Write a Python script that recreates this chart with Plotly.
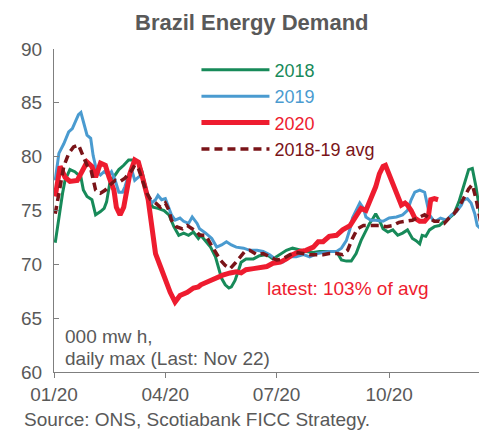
import datetime as dt
import plotly.graph_objects as go

BASE = dt.date(2020, 1, 1)

# ---- data (day offset from 1 Jan 2020, value in 000 MWh daily max) ----
days_2018 = [1, 4, 7, 9, 13, 17, 22, 24, 27, 31, 34, 38, 41, 43, 46, 50, 53, 57, 61, 65, 69, 72, 75, 77, 81, 85, 90, 94, 98, 102, 106, 110, 114, 118,
             120, 124, 128, 132, 134, 137, 140, 143, 145, 148, 151, 153, 157, 163, 168, 174, 179, 185, 190, 195, 201, 206, 212, 217, 223, 231,
             235, 239, 243, 247, 251, 255, 258, 261, 263, 266, 269, 273, 277, 281, 285, 289, 293, 296, 299, 301, 304, 307, 311, 315, 319, 323,
             327, 331, 334, 337, 339, 342, 345, 348, 350, 353]
vals_2018 = [72.0, 74.4, 76.6, 77.8, 78.8, 78.6, 78.1, 76.9, 76.3, 76.0, 74.6, 74.9, 75.2, 75.8, 77.8, 78.3, 78.8, 79.2, 79.7, 79.7, 79.5, 78.6, 77.2, 76.0, 75.3, 75.2, 75.0, 74.6, 73.5, 72.7, 72.9, 72.7, 73.0, 72.4,
             72.7, 72.2, 71.6, 70.7, 69.8, 68.7, 68.1, 67.8, 67.9, 68.5, 69.5, 70.2, 70.5, 70.5, 70.8, 70.9, 70.5, 70.9, 71.3, 71.5, 71.3, 71.2, 71.1, 71.2, 71.2, 71.2,
             70.4, 70.3, 70.3, 71.0, 72.2, 73.2, 73.8, 74.3, 74.7, 74.1, 73.3, 73.0, 73.2, 72.7, 72.9, 73.2, 72.4, 72.2, 71.9, 72.7, 72.6, 73.2, 73.5, 73.6, 74.0, 74.3,
             74.7, 75.8, 76.9, 78.1, 78.8, 78.9, 77.2, 75.0, 73.5, 72.9]

days_2019 = [1, 4, 8, 12, 15, 17, 20, 22, 24, 27, 30, 32, 35, 38, 41, 45, 47, 50, 53, 56, 58, 61, 64, 66, 69, 72, 75, 77, 80, 83, 85, 88, 91, 94, 96, 99, 103, 106, 110, 113, 117, 119,
             124, 129, 133, 137, 141, 145, 149, 155, 160, 166, 171, 176, 182, 187, 193, 198, 204, 209, 215, 220, 225, 231,
             235, 239, 242, 244, 247, 250, 253, 255, 259, 263, 269, 274, 280, 285, 289, 292, 295, 299, 303, 306, 307, 310, 312, 316, 321, 325,
             329, 333, 335, 338, 341, 344, 346, 349, 352]
vals_2019 = [77.8, 80.3, 81.2, 82.3, 82.6, 83.1, 83.9, 84.1, 83.2, 82.0, 81.7, 80.1, 78.6, 78.3, 78.6, 78.3, 78.6, 77.8, 76.7, 76.7, 77.2, 78.3, 78.6, 77.8, 78.1, 78.3, 77.2, 76.3, 75.7, 76.0, 76.4, 76.0, 76.1, 75.3, 74.6, 74.1, 74.3, 74.0, 73.8, 74.4, 73.8, 73.3,
             72.9, 72.4, 71.6, 71.8, 72.1, 71.8, 71.6, 71.5, 71.3, 71.3, 71.2, 70.9, 70.4, 70.2, 70.7, 70.7, 70.9, 70.7, 71.0, 71.1, 71.2, 71.2,
             71.5, 72.2, 73.3, 74.3, 75.0, 75.7, 75.2, 74.4, 74.1, 74.1, 74.0, 74.3, 74.4, 74.6, 75.0, 76.0, 76.7, 76.9, 76.7, 75.3, 74.6, 74.1, 74.0, 74.3, 74.1, 74.6,
             74.9, 75.5, 76.0, 76.1, 75.7, 74.7, 73.6, 73.3, 73.2]

days_2020 = [1, 5, 9, 13, 19, 23, 27, 31, 34, 38, 42, 45, 49, 51, 54, 57, 60, 62, 66, 69, 73, 77, 80, 83, 87, 91, 95, 99, 103, 109, 114, 118,
             120, 128, 133, 138, 144, 149, 153, 157, 163, 168, 174, 179, 185, 190, 195, 201, 206, 212, 216, 220, 225, 231,
             236, 242, 247, 251, 255, 259, 263, 266, 269, 271, 273, 276, 278, 281, 284, 287, 289, 292, 295, 299, 303, 306, 308, 311, 314]
vals_2020 = [76.3, 79.1, 78.1, 77.7, 77.8, 78.6, 79.5, 79.1, 78.1, 79.4, 79.2, 78.1, 76.9, 75.3, 74.6, 75.3, 76.9, 78.4, 79.7, 79.5, 77.8, 76.0, 73.5, 71.0, 69.8, 68.5, 67.4, 66.5, 67.1, 67.4, 67.8, 67.9,
             68.1, 68.5, 68.8, 69.0, 69.2, 69.3, 69.2, 69.5, 69.6, 69.7, 69.8, 70.1, 70.2, 70.5, 70.9, 71.2, 71.3, 71.6, 72.1, 72.1, 72.6, 72.7,
             73.2, 73.6, 74.6, 75.2, 75.0, 76.0, 77.2, 78.4, 79.1, 79.2, 78.6, 78.0, 77.2, 76.3, 75.5, 75.7, 75.5, 75.0, 74.3, 74.0, 74.0, 74.4, 76.0, 76.1, 76.0]

days_avg = [1, 4, 8, 12, 16, 20, 24, 27, 30, 32, 34, 38, 42, 46, 50, 54, 58, 64, 66, 69, 73, 76, 79, 83, 87, 91, 94, 96, 100, 105, 109, 113, 117, 119,
            124, 128, 132, 136, 140, 144, 148, 152, 156, 160, 166, 171, 176, 182, 187, 193, 198, 204, 209, 215, 220, 225, 231,
            236, 240, 244, 248, 253, 257, 261, 266, 272, 277, 282, 288, 293, 299, 303, 307, 311, 315, 319, 323, 327, 331, 335, 339, 342, 345, 348, 350, 353]
vals_avg = [74.7, 76.6, 79.1, 80.3, 80.9, 81.1, 80.1, 79.2, 78.9, 77.8, 76.9, 76.6, 76.9, 77.4, 77.8, 77.7, 78.0, 78.8, 79.2, 78.9, 77.7, 76.6, 76.0, 75.7, 75.3, 75.7, 75.0, 74.1, 73.5, 73.3, 73.6, 73.3, 73.0, 72.7,
            72.7, 71.9, 71.2, 70.4, 69.9, 69.6, 70.1, 70.7, 71.2, 71.3, 70.9, 71.0, 70.7, 70.4, 70.5, 70.9, 71.1, 71.0, 70.9, 70.9, 70.9, 71.0, 71.0,
            70.9, 71.3, 72.4, 73.3, 73.6, 73.6, 73.6, 73.6, 73.5, 73.6, 73.9, 74.0, 74.1, 74.4, 74.6, 74.3, 74.0, 74.0, 73.8, 74.3, 74.7, 75.3, 76.1, 77.0, 77.4, 76.1, 74.4, 73.2, 72.4]

y_ticks = [60, 65, 70, 75, 80, 85, 90]

GREEN = "#178A59"
BLUE = "#4A9BD0"
RED = "#EE1C2F"
DRED = "#7A1418"
GREY = "#595959"
FONT = "Liberation Sans, Arial, sans-serif"


def to_dates(days):
    return [BASE + dt.timedelta(days=d) for d in days]


fig = go.Figure()
fig.add_trace(go.Scatter(x=to_dates(days_2018), y=vals_2018, mode="lines",
                         name=f"<span style='color:{GREEN}'>2018</span>",
                         line=dict(color=GREEN, width=3)))
fig.add_trace(go.Scatter(x=to_dates(days_2019), y=vals_2019, mode="lines",
                         name=f"<span style='color:{BLUE}'>2019</span>",
                         line=dict(color=BLUE, width=3)))
fig.add_trace(go.Scatter(x=to_dates(days_2020), y=vals_2020, mode="lines",
                         name=f"<span style='color:{RED}'>2020</span>",
                         line=dict(color=RED, width=5)))
fig.add_trace(go.Scatter(x=to_dates(days_avg), y=vals_avg, mode="lines",
                         name=f"<span style='color:{DRED}'>2018-19 avg</span>",
                         line=dict(color=DRED, width=3.5, dash="8px,5px")))

fig.update_layout(
    width=479, height=423,
    margin=dict(l=46, r=0, t=41, b=59),
    paper_bgcolor="white", plot_bgcolor="white",
    font=dict(family=FONT, size=19, color=GREY),
    showlegend=True,
    legend=dict(x=0.329, y=0.992, xanchor="left", yanchor="top",
                bgcolor="rgba(0,0,0,0)", font=dict(size=18),
                itemwidth=68, tracegroupgap=0),
    xaxis=dict(range=[BASE, BASE + dt.timedelta(days=354)],
               type="date", tick0="2020-01-01", dtick="M3", tickformat="%m/%y",
               showgrid=False, zeroline=False,
               showline=True, linecolor="#7f7f7f", linewidth=1,
               ticks="outside", ticklen=5, tickcolor="#7f7f7f",
               tickfont=dict(size=19, color=GREY)),
    yaxis=dict(range=[60, 90], tickvals=y_ticks,
               showgrid=False, zeroline=False,
               showline=True, linecolor="#7f7f7f", linewidth=1,
               ticks="inside", ticklen=5, tickcolor="#7f7f7f",
               ticklabelstandoff=7,
               tickfont=dict(size=19, color=GREY)),
)

fig.add_annotation(text="<b>Brazil Energy Demand</b>", xref="paper", yref="paper",
                   x=0.457, y=1.127, xanchor="center", yanchor="top",
                   showarrow=False, font=dict(size=22, color=GREY))
fig.add_annotation(text="latest: 103% of avg", xref="x", yref="y",
                   x=BASE + dt.timedelta(days=240), y=67.8,
                   xanchor="center", yanchor="middle", showarrow=False,
                   font=dict(size=19, color=RED))
fig.add_annotation(text="000 mw h,", xref="paper", yref="y",
                   x=0.021, y=63.3, xanchor="left", yanchor="middle",
                   showarrow=False, font=dict(size=19, color=GREY))
fig.add_annotation(text="daily max (Last: Nov 22)", xref="paper", yref="y",
                   x=0.021, y=61.3, xanchor="left", yanchor="middle",
                   showarrow=False, font=dict(size=19, color=GREY))
fig.add_annotation(text="Source: ONS, Scotiabank FICC Strategy.", xref="paper", yref="paper",
                   x=-0.0746, y=-0.1486, xanchor="left", yanchor="middle",
                   showarrow=False, font=dict(size=19, color=GREY))

fig.write_html("out.html")
